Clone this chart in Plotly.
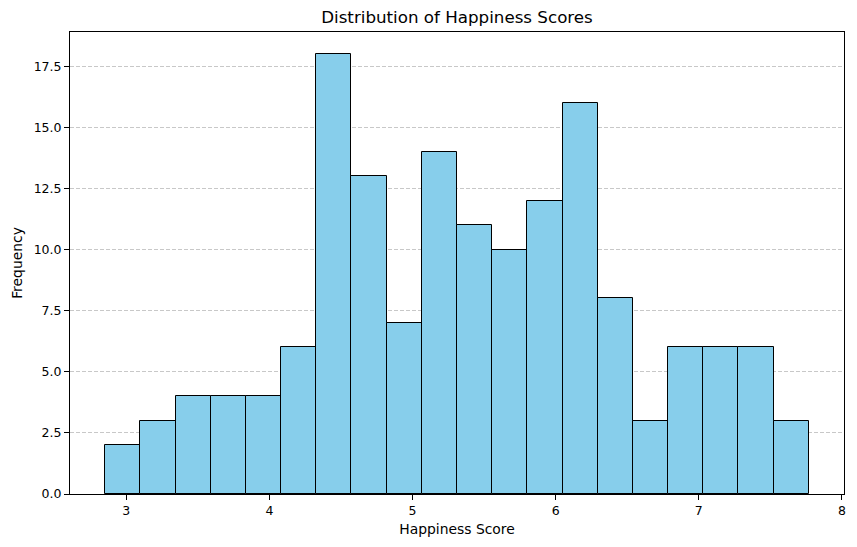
import plotly.graph_objects as go

# Data: histogram of happiness scores (20 equal bins)
score_min = 2.853
score_max = 7.769
n_bins = 20
counts = [2, 3, 4, 4, 4, 6, 18, 13, 7, 14, 11, 10, 12, 16, 8, 3, 6, 6, 6, 3]
x_ticks = [3, 4, 5, 6, 7, 8]
y_ticks = [0, 2.5, 5, 7.5, 10, 12.5, 15, 17.5]

width = (score_max - score_min) / n_bins
edges = [score_min + i * width for i in range(n_bins + 1)]
centers = [(edges[i] + edges[i + 1]) / 2 for i in range(n_bins)]

span = score_max - score_min
x_range = [score_min - 0.05 * span, score_max + 0.05 * span]
y_range = [0, max(counts) * 1.05]

font = "DejaVu Sans"

fig = go.Figure(go.Bar(
    x=centers, y=counts, width=[width] * n_bins,
    marker=dict(color="#87CEEB", line=dict(color="black", width=1)),
    hoverinfo="x+y",
))

fig.update_layout(
    width=857, height=547,
    margin=dict(l=70, r=13, t=32, b=53),
    paper_bgcolor="white", plot_bgcolor="white",
    font=dict(family=font, size=12.5, color="black"),
    title=dict(text="Distribution of Happiness Scores", x=0.5, xanchor="center",
               xref="paper", y=1 - 17 / 547, yanchor="middle",
               font=dict(family=font, size=16.7, color="black")),
    showlegend=False,
    bargap=0,
)
fig.update_xaxes(
    range=x_range, tickvals=x_ticks, ticktext=[str(v) for v in x_ticks],
    showgrid=False, zeroline=False,
    showline=True, linecolor="black", linewidth=1, mirror=True,
    ticks="outside", ticklen=5, tickcolor="black", tickwidth=1,
    title=dict(text="Happiness Score", font=dict(family=font, size=13.9), standoff=7),
)
fig.update_yaxes(
    range=y_range, tickvals=y_ticks, ticktext=[f"{v:.1f}" for v in y_ticks],
    showgrid=True, gridcolor="#c8c8c8", griddash="4px,2px", gridwidth=1,
    zeroline=False,
    showline=True, linecolor="black", linewidth=1, mirror=True,
    ticks="outside", ticklen=5, tickcolor="black", tickwidth=1,
    title=dict(text="Frequency", font=dict(family=font, size=13.9), standoff=7),
)

fig.write_html("out.html")
